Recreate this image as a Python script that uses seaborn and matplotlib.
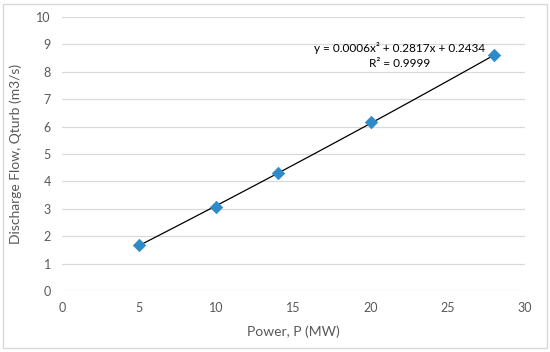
import numpy as np
import pandas as pd
import matplotlib
matplotlib.use("Agg")
import matplotlib.pyplot as plt
import seaborn as sns
from matplotlib.patches import Rectangle

power = [5, 10, 14, 20, 28]
flow = [1.68, 3.08, 4.30, 6.15, 8.60]
equation = "y = 0.0006x² + 0.2817x + 0.2434"
r_squared = "R² = 0.9999"

data = pd.DataFrame({"Power": power, "Flow": flow})

sns.set_theme(style="white")
plt.rcParams["font.family"] = ["Lato", "DejaVu Sans"]

fig = plt.figure(figsize=(5.5, 3.52), dpi=100)
ax = fig.add_axes([0.1127, 0.1733, 0.8418, 0.7784])

# Quadratic trendline fitted to the points
coef = np.polyfit(data["Power"], data["Flow"], 2)
xs = np.linspace(min(power), max(power), 100)
trend = pd.DataFrame({"Power": xs, "Flow": np.polyval(coef, xs)})
sns.lineplot(data=trend, x="Power", y="Flow", color="black", linewidth=0.9, ax=ax, zorder=2)
sns.scatterplot(data=data, x="Power", y="Flow", marker="D", s=40, color="#2E8BC9",
                edgecolor="#2E8BC9", ax=ax, zorder=3)

ax.set_xlim(0, 30)
ax.set_ylim(0, 10)
ax.set_xticks(range(0, 31, 5))
ax.set_yticks(range(0, 11))
ax.yaxis.grid(True, color="#d9d9d9", linewidth=0.9)
ax.set_axisbelow(True)
for s in ax.spines.values():
    s.set_visible(False)
ax.tick_params(axis="both", length=0, colors="#595959", labelsize=9, pad=8)
ax.set_xlabel("Power, P (MW)", color="#595959", fontsize=10, labelpad=8)
ax.set_ylabel("Discharge Flow, Qturb (m3/s)", color="#595959", fontsize=10, labelpad=10)

ax.text(21.9, 8.88, equation, ha="center", va="center", fontsize=8.5, color="black")
ax.text(21.9, 8.32, r_squared, ha="center", va="center", fontsize=8.5, color="black")

fig.patches.append(Rectangle((3 / 550, 4 / 352), 544 / 550, 344 / 352, transform=fig.transFigure,
                             fill=False, edgecolor="#d9d9d9", linewidth=1))

fig.savefig("out.png", dpi=100)
